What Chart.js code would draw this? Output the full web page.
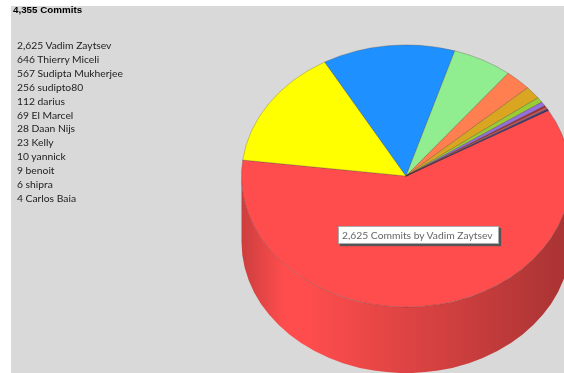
<!DOCTYPE html>
<html>
<head>
<meta charset="utf-8">
<title>Commits</title>
<script src="https://cdn.jsdelivr.net/npm/chart.js@4"></script>
<style>
html, body { margin: 0; padding: 0; width: 564px; height: 373px; overflow: hidden; background: #fff; }
#panel { position: absolute; left: 11px; top: 6px; width: 553px; height: 367px; background: #d9d9d9; }
#pie { position: absolute; left: 0; top: 0; }
#total { position: absolute; left: 13px; top: 4px; font: bold 9.8px "Liberation Sans", Arial, sans-serif; color: #000; }
#people { position: absolute; left: 17px; top: 39px; font: 10.3px/13.9px Lato, sans-serif; color: #222; white-space: nowrap; }
#tip { position: absolute; left: 338px; top: 226px; height: 16px; padding: 0 5px 0 3px; background: #fff; border: 1px solid #aaa;
  box-shadow: 2px 2px 1px #555; font: 10.3px/16px Lato, sans-serif; color: #666; white-space: nowrap; }
</style>
</head>
<body>
<div id="panel"></div>
<canvas id="pie" width="812" height="373"></canvas>
<div id="total"></div>
<div id="people"></div>
<div id="tip"></div>
<script>
const names = ['Vadim Zaytsev', 'Thierry Miceli', 'Sudipta Mukherjee', 'sudipto80', 'darius', 'El Marcel',
    'Daan Nijs', 'Kelly', 'yannick', 'benoit', 'shipra', 'Carlos Baia'];
const commits = [2625, 646, 567, 256, 112, 69, 28, 23, 10, 9, 6, 4];
const colors = ['#ff4d4d', '#ffff00', '#1e90ff', '#90ee90', '#ff7f50', '#daa520',
    '#9acd32', '#9370db', '#a52a2a', '#cd5c5c', '#483d8b', '#191970'];

// text around the pie
const total = commits.reduce((a, b) => a + b, 0);
document.getElementById('total').innerText = total.toLocaleString('en-US') + ' Commits';
document.getElementById('people').innerHTML = names
    .map((n, i) => commits[i].toLocaleString('en-US') + ' ' + n)
    .join('<br>');
document.getElementById('tip').innerText = commits[0].toLocaleString('en-US') + ' Commits by ' + names[0];

const squash = 0.797;   // height / width of the tilted top face
const depth = 66;       // height of the side wall

function shade(hex, f) {
    const n = parseInt(hex.slice(1), 16);
    const r = Math.round((n >> 16 & 255) * f);
    const g = Math.round((n >> 8 & 255) * f);
    const b = Math.round((n & 255) * f);
    return `rgb(${r},${g},${b})`;
}

// tilts the pie and puts a wall under the front half
const tiltPlugin = {
    id: 'tilt',
    beforeDatasetsDraw(chart) {
        const ctx = chart.ctx;
        const arcs = chart.getDatasetMeta(0).data;
        const cx = arcs[0].x, cy = arcs[0].y, rx = arcs[0].outerRadius, ry = rx * squash;

        arcs.forEach((arc, i) => {
            [-2 * Math.PI, 0, 2 * Math.PI].forEach((k) => {
                const a0 = Math.max(arc.startAngle + k, 0);
                const a1 = Math.min(arc.endAngle + k, Math.PI);
                if (a1 <= a0) return;
                const grad = ctx.createLinearGradient(cx - rx, 0, cx + rx, 0);
                grad.addColorStop(0, shade(colors[i], 0.8));
                grad.addColorStop(0.13, shade(colors[i], 1));
                grad.addColorStop(0.2, shade(colors[i], 1));
                grad.addColorStop(1, shade(colors[i], 0.66));
                ctx.beginPath();
                ctx.ellipse(cx, cy, rx, ry, 0, a0, a1);
                ctx.ellipse(cx, cy + depth, rx, ry, 0, a1, a0, true);
                ctx.closePath();
                ctx.fillStyle = grad;
                ctx.fill();
            });
        });

        ctx.save();
        ctx.translate(cx, cy);
        ctx.scale(1, squash);
        ctx.translate(-cx, -cy);
    },
    afterDatasetsDraw(chart) {
        chart.ctx.restore();
    }
};

new Chart(document.getElementById('pie'), {
    type: 'pie',
    data: {
        labels: names,
        datasets: [{
            data: commits,
            backgroundColor: colors,
            borderColor: 'rgba(70,50,50,0.3)',
            borderWidth: 1,
            rotation: 60
        }]
    },
    options: {
        responsive: false,
        animation: false,
        events: [],
        layout: { padding: { top: 11, bottom: 32, left: 0, right: 0 } },
        plugins: { legend: { display: false }, tooltip: { enabled: false } }
    },
    plugins: [tiltPlugin]
});
</script>
</body>
</html>
